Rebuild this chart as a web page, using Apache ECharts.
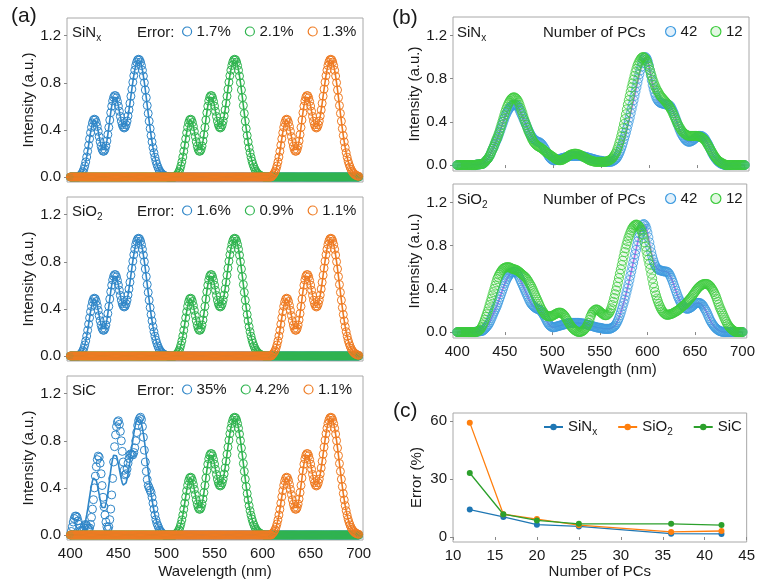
<!DOCTYPE html>
<html>
<head>
<meta charset="utf-8">
<script src="https://cdn.jsdelivr.net/npm/echarts@6/dist/echarts.min.js"></script>
<style>
  html, body { margin: 0; padding: 0; background: #fff; }
  #main { width: 758px; height: 583px; }
</style>
</head>
<body>
<div id="main"></div>
<script>
// ---- (a) target band, 1 nm steps; same profile used for the three colour channels
const bandA = [
  0.012, 0.019, 0.030, 0.045, 0.066, 0.094, 0.128, 0.170, 0.218, 0.270,
  0.324, 0.376, 0.422, 0.459, 0.483, 0.491, 0.485, 0.463, 0.429, 0.388,
  0.343, 0.299, 0.262, 0.234, 0.219, 0.219, 0.233, 0.263, 0.306, 0.360,
  0.421, 0.484, 0.546, 0.601, 0.646, 0.677, 0.691, 0.690, 0.672, 0.641,
  0.602, 0.558, 0.514, 0.474, 0.443, 0.424, 0.416, 0.423, 0.443, 0.475,
  0.518, 0.569, 0.626, 0.686, 0.746, 0.805, 0.860, 0.907, 0.947, 0.976,
  0.994, 1.000, 0.994, 0.976, 0.946, 0.906, 0.857, 0.801, 0.739, 0.674,
  0.607, 0.540, 0.474, 0.411, 0.352, 0.298, 0.249, 0.206, 0.168, 0.135,
  0.108, 0.085, 0.066, 0.050, 0.038, 0.029, 0.021, 0.015, 0.011, 0.008,
  0.006
];
const bandStartA = [410, 510, 610];   // blue, green, orange channel

// SiC blue channel reconstruction (35 % error), 1 nm steps from 400 nm
const sicBlueFit = [
  0.00, 0.03, 0.07, 0.11, 0.14, 0.16, 0.16, 0.15, 0.12, 0.09,
  0.06, 0.04, 0.03, 0.04, 0.06, 0.08, 0.09, 0.08, 0.06, 0.05,
  0.06, 0.09, 0.15, 0.22, 0.30, 0.40, 0.50, 0.58, 0.64, 0.67,
  0.66, 0.61, 0.52, 0.42, 0.32, 0.24, 0.17, 0.11, 0.07, 0.05,
  0.07, 0.13, 0.22, 0.34, 0.48, 0.62, 0.75, 0.85, 0.92, 0.96,
  0.97, 0.94, 0.88, 0.80, 0.71, 0.62, 0.55, 0.51, 0.52, 0.56,
  0.61, 0.65, 0.68, 0.69, 0.68, 0.68, 0.70, 0.74, 0.80, 0.87,
  0.93, 0.97, 0.99, 1.00, 0.98, 0.92, 0.83, 0.72, 0.62, 0.54,
  0.47, 0.42, 0.40, 0.38, 0.36, 0.32, 0.27, 0.22, 0.17, 0.13,
  0.10, 0.08, 0.06, 0.04, 0.03, 0.02, 0.01
];
const errorLabels = [['1.7%', '2.1%', '1.3%'], ['1.6%', '0.9%', '1.1%'], ['35%', '4.2%', '1.1%']];

// ---- (b) 1 nm steps from 420 nm (zero elsewhere)
const targetB = [
  .005, .005, .005, .006, .008, .009, .010, .014, .020, .029,
  .040, .050, .060, .074, .090, .109, .130, .150, .170, .190,
  .210, .230, .250, .275, .300, .325, .350, .375, .400, .425,
  .450, .470, .490, .506, .520, .533, .545, .551, .555, .558,
  .560, .559, .555, .544, .530, .511, .490, .470, .450, .430,
  .410, .390, .370, .350, .330, .310, .290, .275, .260, .250,
  .240, .232, .225, .220, .215, .212, .210, .203, .195, .183,
  .170, .156, .140, .123, .105, .090, .075, .064, .055, .049,
  .045, .044, .045, .047, .050, .052, .055, .057, .060, .062,
  .065, .067, .070, .072, .075, .077, .080, .082, .085, .085,
  .085, .085, .085, .085, .085, .085, .085, .085, .085, .083,
  .080, .080, .080, .078, .075, .073, .070, .068, .065, .063,
  .060, .058, .055, .053, .050, .048, .045, .043, .040, .040,
  .040, .038, .035, .033, .030, .030, .030, .030, .030, .030,
  .030, .032, .035, .040, .045, .052, .060, .074, .090, .109,
  .130, .154, .180, .209, .240, .270, .300, .335, .370, .405,
  .440, .480, .520, .560, .600, .640, .680, .720, .760, .800,
  .840, .876, .910, .942, .970, .990, 1.00, .995, .980, .955,
  .920, .877, .830, .785, .740, .703, .670, .643, .620, .604,
  .590, .582, .575, .572, .570, .567, .565, .562, .560, .560,
  .560, .556, .550, .537, .520, .501, .480, .456, .430, .405,
  .380, .355, .330, .310, .290, .275, .260, .247, .235, .227,
  .220, .217, .215, .217, .220, .225, .230, .237, .245, .253,
  .260, .266, .270, .270, .270, .268, .265, .258, .250, .236,
  .220, .206, .190, .171, .150, .130, .110, .095, .080, .067,
  .055, .045, .035, .027, .020, .015, .010, .007, .005, .002
];
const sinxPc12 = [
  .005, .005, .005, .006, .008, .009, .010, .014, .020, .029,
  .040, .050, .060, .074, .090, .109, .130, .150, .170, .195,
  .220, .240, .260, .285, .310, .340, .370, .400, .430, .460,
  .490, .516, .540, .561, .580, .596, .610, .619, .625, .626,
  .625, .619, .610, .597, .580, .556, .530, .505, .480, .450,
  .420, .395, .370, .345, .320, .300, .280, .260, .240, .225,
  .210, .200, .190, .182, .175, .170, .165, .160, .155, .148,
  .140, .133, .125, .118, .110, .105, .100, .093, .085, .080,
  .075, .068, .060, .055, .050, .047, .045, .045, .045, .047,
  .050, .055, .060, .065, .070, .077, .085, .090, .095, .098,
  .100, .103, .105, .105, .105, .103, .100, .098, .095, .090,
  .085, .080, .075, .070, .065, .060, .055, .050, .045, .042,
  .040, .037, .035, .032, .030, .030, .030, .030, .030, .030,
  .030, .030, .030, .030, .030, .032, .035, .037, .040, .045,
  .050, .057, .065, .077, .090, .105, .120, .145, .170, .200,
  .230, .265, .300, .340, .380, .425, .470, .515, .560, .600,
  .640, .680, .720, .755, .790, .825, .860, .890, .920, .940,
  .960, .975, .990, .996, 1.00, .996, .990, .975, .960, .935,
  .910, .880, .850, .820, .790, .765, .740, .720, .700, .685,
  .670, .655, .640, .630, .620, .610, .600, .590, .580, .570,
  .560, .545, .530, .515, .500, .480, .460, .440, .420, .400,
  .380, .365, .350, .335, .320, .310, .300, .292, .285, .280,
  .275, .272, .270, .270, .270, .270, .270, .270, .270, .270,
  .270, .268, .265, .263, .260, .255, .250, .243, .235, .223,
  .210, .195, .180, .165, .150, .135, .120, .105, .090, .077,
  .065, .055, .045, .037, .030, .025, .020, .015, .010, .007
];
const sio2Pc12 = [
  .000, .005, .010, .015, .020, .035, .050, .070, .090, .115,
  .140, .165, .190, .220, .250, .280, .310, .340, .370, .400,
  .430, .460, .490, .510, .530, .545, .560, .573, .585, .590,
  .595, .598, .600, .600, .600, .598, .595, .590, .585, .583,
  .580, .578, .575, .570, .565, .558, .550, .543, .535, .528,
  .520, .513, .505, .493, .480, .465, .450, .435, .420, .400,
  .380, .360, .340, .320, .300, .280, .260, .240, .220, .205,
  .190, .178, .165, .158, .150, .148, .145, .145, .145, .148,
  .150, .155, .160, .165, .170, .174, .178, .179, .180, .178,
  .175, .168, .160, .148, .135, .120, .105, .090, .075, .062,
  .050, .040, .030, .022, .015, .010, .005, .002, .000, .001,
  .003, .006, .010, .017, .025, .037, .050, .067, .085, .112,
  .140, .160, .180, .190, .200, .205, .210, .208, .205, .198,
  .190, .183, .175, .168, .160, .158, .155, .157, .160, .170,
  .180, .200, .220, .250, .280, .315, .350, .385, .420, .460,
  .500, .540, .580, .620, .660, .700, .740, .775, .810, .840,
  .870, .895, .920, .940, .960, .973, .985, .990, .995, .993,
  .990, .980, .970, .950, .930, .900, .870, .830, .790, .750,
  .710, .670, .630, .585, .540, .495, .450, .410, .370, .340,
  .310, .285, .260, .240, .220, .205, .190, .180, .170, .165,
  .160, .160, .160, .162, .165, .168, .170, .175, .180, .185,
  .190, .195, .200, .208, .215, .223, .230, .238, .245, .253,
  .260, .270, .280, .290, .300, .310, .320, .333, .345, .358,
  .370, .383, .395, .405, .415, .423, .430, .435, .440, .443,
  .445, .445, .445, .443, .440, .433, .425, .413, .400, .385,
  .370, .350, .330, .305, .280, .255, .230, .210, .190, .170,
  .150, .130, .110, .093, .075, .063, .050, .040, .030, .023,
  .015, .010, .005
];

// ---- (c) error vs number of PCs
const pcs = [12, 16, 20, 25, 36, 42];
const errSiNx = [14.2, 10.4, 6.4, 5.5, 1.7, 1.6];
const errSiO2 = [59.3, 11.8, 9.3, 6.1, 2.6, 3.1];
const errSiC = [33.2, 11.8, 8.6, 6.8, 6.8, 6.2];

const wlTicks = [400, 450, 500, 550, 600, 650, 700];
const intTicks = [0, 0.4, 0.8, 1.2];
const errTicks = [0, 30, 60];

// ------------------------------------------------------------------
const font = "'Liberation Sans', Arial, sans-serif";
const ink = '#1a1a1a';
const frame = '#a8a8a8';
const colA = ['#2f86c8', '#2fb44f', '#ef7b22'];
const blueB = '#3d9be0', greenB = '#3ccb3c', violet = '#c46be6';
const colC = ['#1f77b4', '#ff7f0e', '#2ca02c'];
const sub = { fontSize: 10, lineHeight: 10, verticalAlign: 'bottom', color: ink, fontFamily: font };

// pad a measured segment (1 nm steps) with zeros over 400-700 nm
function onGrid(vals, start) {
  const out = [];
  for (let w = 400; w <= 700; w++) {
    const i = w - start;
    out.push([w, i >= 0 && i < vals.length ? vals[i] : 0]);
  }
  return out;
}

const grids = [], xAxes = [], yAxes = [], series = [], titles = [], legends = [];

function addText(text, left, top, size) {
  titles.push({
    text: text, left: left, top: top, padding: 0,
    textStyle: { fontSize: size || 15, fontWeight: 'normal', color: ink, fontFamily: font,
      lineHeight: 20, rich: { sub: sub } }
  });
}

function specAxes(gi, xmin, xmax, ymin, ymax, bottomAxis) {
  xAxes.push({
    gridIndex: gi, type: 'value', min: xmin, max: xmax,
    axisLine: { show: false }, splitLine: { show: false },
    axisTick: { customValues: wlTicks, length: 3, lineStyle: { color: '#888' } },
    axisLabel: { show: bottomAxis, customValues: wlTicks, margin: 6, fontSize: 15, color: ink, fontFamily: font },
    name: bottomAxis ? 'Wavelength (nm)' : '', nameLocation: 'middle', nameGap: 24,
    nameTextStyle: { fontSize: 15, color: ink, fontFamily: font }
  });
  yAxes.push({
    gridIndex: gi, type: 'value', min: ymin, max: ymax,
    axisLine: { show: false }, splitLine: { show: false },
    axisTick: { customValues: intTicks, length: 3, lineStyle: { color: '#888' } },
    axisLabel: { customValues: intTicks, margin: 6, fontSize: 15, color: ink, fontFamily: font,
      formatter: v => v.toFixed(1) },
    name: 'Intensity (a.u.)', nameLocation: 'middle', nameGap: 31,
    nameTextStyle: { fontSize: 15, color: ink, fontFamily: font }
  });
}

// ---- panels (a)
const aTops = [18, 197, 376];
const matLabels = ['SiN{sub|x}', 'SiO{sub|2}', 'SiC'];
aTops.forEach((top, i) => {
  grids.push({ left: 67, top: top, width: 296, height: 164, show: true, borderColor: frame, borderWidth: 1 });
  specAxes(i, 396.5, 704.5, -0.0425, 1.35, i === 2);
  colA.forEach((c, k) => {
    const truth = onGrid(bandA, bandStartA[k]);
    const fit = (i === 2 && k === 0) ? onGrid(sicBlueFit, 400) : truth;
    series.push({
      type: 'line', name: errorLabels[i][k], xAxisIndex: i, yAxisIndex: i, data: fit,
      symbol: 'circle', symbolSize: 8, showSymbol: true, silent: true,
      lineStyle: { opacity: 0 }, itemStyle: { color: 'transparent', borderColor: c, borderWidth: 1 }
    });
    series.push({
      type: 'line', name: 'target-a' + i + k, xAxisIndex: i, yAxisIndex: i, data: truth,
      symbol: 'none', silent: true, lineStyle: { color: c, width: 1.6 }, itemStyle: { color: c }
    });
  });
  addText(matLabels[i], 72, top + 5);
  addText('Error:', 137, top + 5);
  legends.push({
    left: 182, top: top + 6, padding: 0, icon: 'circle', itemWidth: 9, itemHeight: 9, itemGap: 14,
    selectedMode: false, textStyle: { fontSize: 15, color: ink, fontFamily: font },
    data: errorLabels[i].map((n, k) => ({
      name: n, itemStyle: { color: 'transparent', borderColor: colA[k], borderWidth: 1.2 }
    }))
  });
});

// ---- panels (b)
const bTops = [17, 184];
const pc12 = [sinxPc12, sio2Pc12];
bTops.forEach((top, j) => {
  const gi = 3 + j;
  grids.push({ left: 453, top: top, width: 296, height: 154, show: true, borderColor: frame, borderWidth: 1 });
  specAxes(gi, 395.5, 704.5, -0.055, 1.37, j === 1);
  series.push({
    type: 'line', name: '42', xAxisIndex: gi, yAxisIndex: gi, data: onGrid(targetB, 420),
    symbol: 'circle', symbolSize: 9, showSymbol: true, silent: true, lineStyle: { opacity: 0 },
    itemStyle: { color: 'rgba(61,155,224,0.05)', borderColor: blueB, borderWidth: 0.8 }
  });
  series.push({
    type: 'line', name: '12', xAxisIndex: gi, yAxisIndex: gi, data: onGrid(pc12[j], 420),
    symbol: 'circle', symbolSize: 9, showSymbol: true, silent: true, lineStyle: { opacity: 0 },
    itemStyle: { color: 'rgba(60,203,60,0.05)', borderColor: greenB, borderWidth: 0.8 }
  });
  series.push({
    type: 'line', name: 'target-b' + j, xAxisIndex: gi, yAxisIndex: gi, data: onGrid(targetB, 420),
    symbol: 'none', silent: true, lineStyle: { color: violet, width: 1.6 }
  });
  addText(matLabels[j], 457, top + 6);
  addText('Number of PCs', 543, top + 6);
  legends.push({
    left: 665, top: top + 7, padding: 0, icon: 'circle', itemWidth: 10, itemHeight: 10, itemGap: 13,
    selectedMode: false, textStyle: { fontSize: 15, color: ink, fontFamily: font },
    data: [
      { name: '42', itemStyle: { color: 'rgba(61,155,224,0.15)', borderColor: blueB, borderWidth: 1.2 } },
      { name: '12', itemStyle: { color: 'rgba(60,203,60,0.15)', borderColor: greenB, borderWidth: 1.2 } }
    ]
  });
});

// ---- panel (c)
grids.push({ left: 453, top: 413, width: 296, height: 129, show: true, borderColor: frame, borderWidth: 1 });
xAxes.push({
  gridIndex: 5, type: 'value', min: 10, max: 45, interval: 5,
  axisLine: { show: false }, splitLine: { show: false },
  axisTick: { length: 3, lineStyle: { color: '#888' } },
  axisLabel: { margin: 6, fontSize: 15, color: ink, fontFamily: font },
  name: 'Number of PCs', nameLocation: 'middle', nameGap: 22,
  nameTextStyle: { fontSize: 15, color: ink, fontFamily: font }
});
yAxes.push({
  gridIndex: 5, type: 'value', min: -2.6, max: 64.3,
  axisLine: { show: false }, splitLine: { show: false },
  axisTick: { customValues: errTicks, length: 3, lineStyle: { color: '#888' } },
  axisLabel: { customValues: errTicks, margin: 6, fontSize: 15, color: ink, fontFamily: font },
  name: 'Error (%)', nameLocation: 'middle', nameGap: 29,
  nameTextStyle: { fontSize: 15, color: ink, fontFamily: font }
});
[['SiNx', errSiNx], ['SiO2', errSiO2], ['SiC', errSiC]].forEach((s, k) => {
  series.push({
    type: 'line', name: s[0], xAxisIndex: 5, yAxisIndex: 5,
    data: pcs.map((p, i) => [p, s[1][i]]),
    symbol: 'circle', symbolSize: 6, silent: true,
    lineStyle: { color: colC[k], width: 1.3 }, itemStyle: { color: colC[k] }
  });
});
const legendNames = { SiNx: 'SiN{sub|x}', SiO2: 'SiO{sub|2}', SiC: 'SiC' };
legends.push({
  left: 543, top: 417, padding: 0, itemWidth: 19, itemHeight: 8, itemGap: 20,
  selectedMode: false, data: ['SiNx', 'SiO2', 'SiC'],
  formatter: n => legendNames[n],
  textStyle: { fontSize: 15, color: ink, fontFamily: font, lineHeight: 20, rich: { sub: sub } }
});

addText('(a)', 11, 6, 21);
addText('(b)', 392, 8, 21);
addText('(c)', 393, 401, 21);

const chart = echarts.init(document.getElementById('main'), null, { renderer: 'canvas' });
chart.setOption({
  animation: false,
  backgroundColor: '#fff',
  textStyle: { fontFamily: font },
  title: titles,
  legend: legends,
  grid: grids,
  xAxis: xAxes,
  yAxis: yAxes,
  series: series
});
</script>
</body>
</html>
